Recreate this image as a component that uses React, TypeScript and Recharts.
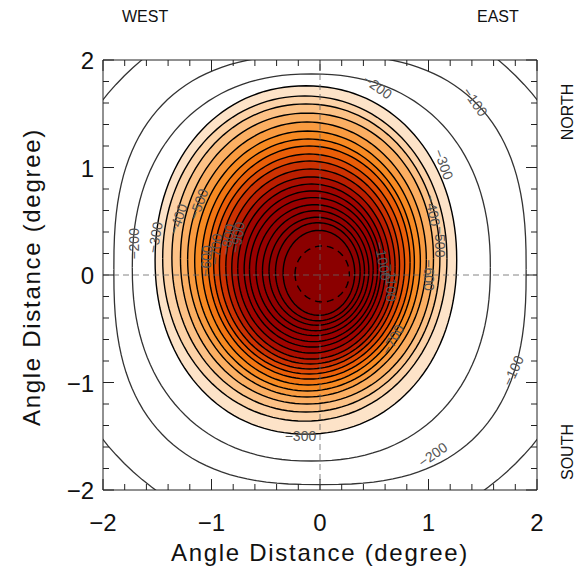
import React from 'react';
import { ComposedChart, Area, XAxis, YAxis, ReferenceLine, ReferenceDot } from 'recharts';

// contour levels, outermost first; each closed contour is read off the picture as
// centre + half widths + how square it looks (2 = ellipse, bigger = boxier)
const levels = [0, -100, -200, -300, -400, -500, -600, -700, -800, -900, -1000, -1100, -1200,
  -1300, -1400, -1500, -1600, -1700, -1800, -1900, -2000, -2100, -2200, -2300];
const centerX = [0, 0.0, -0.08, -0.13, -0.14, -0.13, -0.12, -0.12, -0.115, -0.11, -0.1, -0.1, -0.097,
  -0.088, -0.083, -0.078, -0.069, -0.06, -0.05, -0.04, -0.03, -0.02, -0.01, 0.02];
const centerY = [0.05, 0.05, 0.07, 0.14, 0.153, 0.158, 0.153, 0.144, 0.13, 0.121, 0.116, 0.102, 0.093,
  0.079, 0.065, 0.06, 0.056, 0.05, 0.045, 0.04, 0.035, 0.03, 0.02, 0.01];
const radiusX = [2.55, 1.9, 1.65, 1.39, 1.31, 1.235, 1.166, 1.1, 1.04, 0.98, 0.93, 0.88, 0.83,
  0.78, 0.73, 0.68, 0.63, 0.59, 0.54, 0.49, 0.44, 0.39, 0.33, 0.25];
const radiusY = [2.55, 2.0, 1.8, 1.62, 1.512, 1.433, 1.353, 1.279, 1.209, 1.144, 1.084, 1.023, 0.967,
  0.907, 0.847, 0.786, 0.726, 0.67, 0.609, 0.558, 0.502, 0.456, 0.395, 0.26];
const squareness = [2, 2.6, 2.25, 2.1, 2.05, 2.05, 2.05, 2, 2, 2, 2, 2, 2,
  2, 2, 2, 2, 2, 2, 2, 2, 2, 2, 2];
const bandColors = ['none', 'none', 'none', '#FDE3C8', '#FDD3A8', '#FCC287', '#FBAF63', '#F99B40',
  '#F78A22', '#F27512', '#EA5E08', '#DD4804', '#CC3202', '#BB1E00', '#AA0E00', '#A00400', '#9C0200',
  '#990000', '#960000', '#930000', '#900000', '#8E0000', '#8B0000', '#8B0000'];

const ticks = [-2, -1.8, -1.6, -1.4, -1.2, -1, -0.8, -0.6, -0.4, -0.2, 0, 0.2, 0.4, 0.6, 0.8, 1,
  1.2, 1.4, 1.6, 1.8, 2];

const labelText = ['−100', '−200', '−300', '−400', '−500', '−600', '−1000', '−1100', '−700',
  '−200', '−300', '−400', '−500', '−600', '−700', '−800', '−900', '−300', '−200', '−100'];
const labelX = [1.43, 0.53, 1.14, 1.04, 1.11, 1.0, 0.58, 0.65, 0.67,
  -1.71, -1.52, -1.31, -1.12, -1.05, -0.96, -0.85, -0.76, -0.18, 1.04, 1.78];
const labelY = [1.61, 1.75, 1.03, 0.6, 0.31, 0.0, 0.13, -0.07, -0.6,
  0.29, 0.35, 0.52, 0.66, 0.13, 0.24, 0.33, 0.35, -1.5, -1.67, -0.89];
const labelAngle = [55, 35, 70, 80, 90, 90, 80, 90, -60,
  -90, -80, -70, -70, -85, -85, -80, -80, 0, -35, -65];

const FONT = '"Liberation Sans", Arial, sans-serif';

function ring(i: number) {
  const pts: { x: number; y: [number, number] }[] = [];
  const e = 2 / squareness[i];
  for (let k = 0; k <= 72; k++) {
    const t = Math.PI * (1 - k / 72);
    const c = Math.cos(t);
    const s = Math.sin(t);
    const x = centerX[i] + radiusX[i] * Math.sign(c) * Math.pow(Math.abs(c), e);
    const h = radiusY[i] * Math.pow(Math.abs(s), e);
    pts.push({ x, y: [centerY[i] - h, centerY[i] + h] });
  }
  return pts;
}

const fmt = (v: number) => (v < 0 ? '−' + Math.abs(v) : String(v));
const isMajor = (v: number) => Math.abs(v - Math.round(v)) < 1e-6;

const BottomTick = (p: any) => {
  const v = p.payload.value;
  const m = isMajor(v);
  return (
    <g>
      <line x1={p.x} x2={p.x} y1={p.y} y2={p.y - (m ? 11 : 6)} stroke="#222" />
      {m && (
        <text x={p.x} y={p.y + 41} textAnchor="middle" fontSize={24} fontFamily={FONT} fill="#111">
          {fmt(v)}
        </text>
      )}
    </g>
  );
};
const TopTick = (p: any) => {
  const m = isMajor(p.payload.value);
  return <line x1={p.x} x2={p.x} y1={p.y} y2={p.y + (m ? 11 : 6)} stroke="#222" />;
};
const LeftTick = (p: any) => {
  const v = p.payload.value;
  const m = isMajor(v);
  return (
    <g>
      <line x1={p.x} x2={p.x + (m ? 11 : 6)} y1={p.y} y2={p.y} stroke="#222" />
      {m && (
        <text x={p.x - 9} y={p.y + 9} textAnchor="end" fontSize={24} fontFamily={FONT} fill="#111">
          {fmt(v)}
        </text>
      )}
    </g>
  );
};
const RightTick = (p: any) => {
  const m = isMajor(p.payload.value);
  return <line x1={p.x} x2={p.x - (m ? 11 : 6)} y1={p.y} y2={p.y} stroke="#222" />;
};

const side: React.CSSProperties = {
  position: 'absolute',
  fontFamily: FONT,
  color: '#111',
  whiteSpace: 'nowrap',
};

export default function App() {
  return (
    <div style={{ position: 'absolute', left: 0, top: 0, width: 580, height: 572, background: '#fff' }}>
      <ComposedChart width={580} height={572} margin={{ top: 59, right: 42, bottom: 81, left: 102 }}>
        <XAxis xAxisId="b" type="number" dataKey="x" domain={[-2, 2]} ticks={ticks} interval={0}
          allowDataOverflow height={1} tickSize={0} tickMargin={0} tick={<BottomTick />}
          axisLine={{ stroke: '#222' }} />
        <XAxis xAxisId="t" orientation="top" type="number" dataKey="x" domain={[-2, 2]} ticks={ticks}
          interval={0} allowDataOverflow height={1} tickSize={0} tickMargin={0} tick={<TopTick />}
          axisLine={{ stroke: '#222' }} />
        <YAxis yAxisId="l" type="number" domain={[-2, 2]} ticks={ticks} interval={0} allowDataOverflow
          width={1} tickSize={0} tickMargin={0} tick={<LeftTick />} axisLine={{ stroke: '#222' }} />
        <YAxis yAxisId="r" orientation="right" type="number" domain={[-2, 2]} ticks={ticks} interval={0}
          allowDataOverflow width={1} tickSize={0} tickMargin={0} tick={<RightTick />}
          axisLine={{ stroke: '#222' }} />
        {levels.map((lv, i) => (
          <Area
            key={lv}
            xAxisId="b"
            yAxisId="l"
            data={ring(i)}
            dataKey="y"
            type="linear"
            fill={bandColors[i]}
            fillOpacity={1}
            stroke={i < 3 ? '#333' : '#000'}
            strokeWidth={i < 3 ? 1.3 : 1.4}
            strokeDasharray={i === levels.length - 1 ? '7 5' : undefined}
            dot={false}
            activeDot={false}
            isAnimationActive={false}
          />
        ))}
        <ReferenceLine xAxisId="b" yAxisId="l" x={0} stroke="#666" strokeDasharray="6 4" strokeWidth={0.8} />
        <ReferenceLine xAxisId="b" yAxisId="l" y={0} stroke="#666" strokeDasharray="6 4" strokeWidth={0.8} />
        {labelText.map((t, i) => (
          <ReferenceDot
            key={i}
            xAxisId="b"
            yAxisId="l"
            x={labelX[i]}
            y={labelY[i]}
            r={0}
            shape={(p: any) => (
              <text
                x={p.cx}
                y={p.cy}
                transform={`rotate(${labelAngle[i]} ${p.cx} ${p.cy})`}
                textAnchor="middle"
                dominantBaseline="central"
                fontSize={14}
                fontFamily={FONT}
                fill="#555"
              >
                {t}
              </text>
            )}
          />
        ))}
      </ComposedChart>
      <div style={{ ...side, left: 122, top: 8, fontSize: 16 }}>WEST</div>
      <div style={{ ...side, left: 477, top: 8, fontSize: 16 }}>EAST</div>
      <div style={{ ...side, left: 568, top: 112, fontSize: 16, transform: 'translate(-50%,-50%) rotate(-90deg)' }}>NORTH</div>
      <div style={{ ...side, left: 568, top: 452, fontSize: 16, transform: 'translate(-50%,-50%) rotate(-90deg)' }}>SOUTH</div>
      <div style={{ ...side, left: 320, top: 553, fontSize: 24, letterSpacing: 1.7, transform: 'translate(-50%,-50%)' }}>
        Angle Distance (degree)
      </div>
      <div style={{ ...side, left: 32, top: 277, fontSize: 24, letterSpacing: 1.7, transform: 'translate(-50%,-50%) rotate(-90deg)' }}>
        Angle Distance (degree)
      </div>
    </div>
  );
}
